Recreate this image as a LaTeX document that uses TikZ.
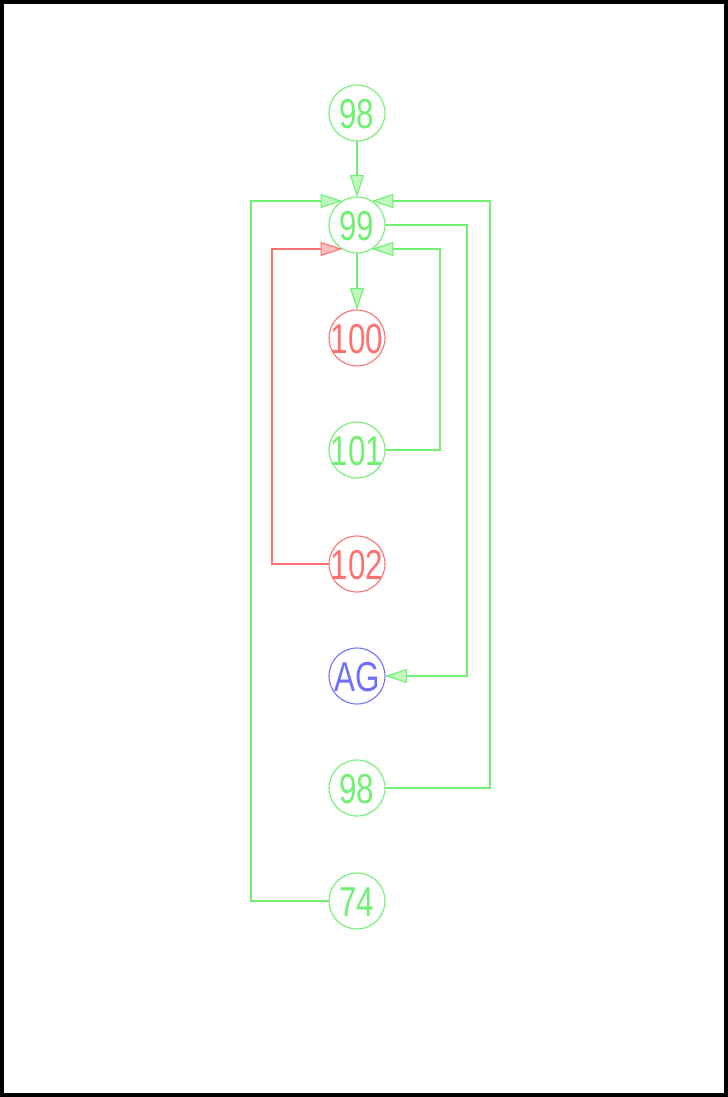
\documentclass[tikz,border=0pt]{standalone}
\usepackage{fontspec}
\setmainfont{Liberation Sans}
\newfontfamily\statefont[FakeStretch=0.75]{Liberation Sans}
\usetikzlibrary{arrows.meta}
\definecolor{okgreen}{HTML}{70F070}
\definecolor{badred}{HTML}{FF7070}
\definecolor{goalblue}{HTML}{7070FF}
\tikzset{
  state/.style={draw=okgreen, text=okgreen, circle, line width=1.1bp,
    minimum size=56bp, inner sep=-8bp, outer sep=0pt,
    text height=30bp, text depth=0bp,
    font=\statefont\fontsize{42}{42}\selectfont},
  failstate/.style={state, draw=badred, text=badred},
  goalstate/.style={state, draw=goalblue, text=goalblue},
  arr/.style={-{Triangle[length=22bp, width=14bp, fill=okgreen!45]}, line width=1.1bp, draw=okgreen},
  failarr/.style={-{Triangle[length=22bp, width=14bp, fill=badred!45]}, line width=1.1bp, draw=badred}
}
\begin{document}
\begin{tikzpicture}[x=1bp,y=-1bp]
  \useasboundingbox (0,0) rectangle (728,1097);
  \draw[line width=4bp] (2,2) rectangle (726,1095);
  % states, top to bottom
  \node[state] (top98) at (357,113) {98};
  \node[state] (n99) at (357,225) {99};
  \node[failstate] (n100) at (357,338) {100};
  \node[state] (n101) at (357,450) {101};
  \node[failstate] (n102) at (357,564) {102};
  \node[goalstate] (ag) at (357,676) {AG};
  \node[state] (low98) at (357,788) {98};
  \node[state] (n74) at (357,901) {74};
  % transitions
  \draw[arr] (top98) -- (n99);
  \draw[arr] (n99) -- (n100);
  \draw[arr] (n74.west) -- ++(-78,0) |- (n99.121);
  \draw[arr] (low98.east) -- ++(105,0) |- (n99.59);
  \draw[failarr] (n102.west) -- ++(-57,0) |- (n99.239);
  \draw[arr] (n101.east) -- ++(55,0) |- (n99.301);
  \draw[arr] (n99.east) -- ++(82,0) |- (ag.east);
\end{tikzpicture}
\end{document}
